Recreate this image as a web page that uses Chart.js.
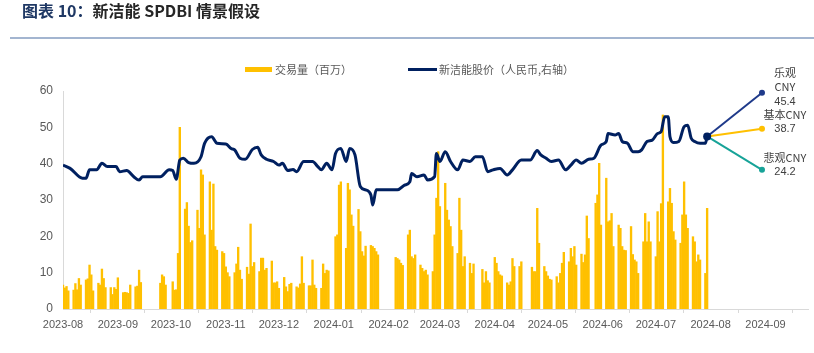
<!DOCTYPE html>
<html>
<head>
<meta charset="utf-8">
<script src="https://cdn.jsdelivr.net/npm/chart.js@4.4.1/dist/chart.umd.min.js"></script>
<style>
    body { margin: 0; background: #fff; }
    #wrap { position: relative; width: 814px; height: 353px; overflow: hidden; font-family: "Noto Sans CJK SC", sans-serif; }
    #title { position: absolute; left: 22px; top: 0; font-size: 16px; font-weight: bold; color: #262626; line-height: 21px; white-space: nowrap; }
    #title .num { color: #1f3864; }
    #rule { position: absolute; left: 10px; right: 0; top: 37px; height: 2px; background: #a3b5d0; }
    .legend-text { position: absolute; top: 61px; font-size: 11px; line-height: 16px; color: #595959; white-space: nowrap; }
    .swatch { position: absolute; }
    canvas { position: absolute; left: 0; top: 0; }
</style>
</head>
<body>
<div id="wrap">
    <canvas id="chart" width="814" height="353"></canvas>
    <div id="title"><span class="num">图表 10：</span>新洁能 SPDBI 情景假设</div>
    <div id="rule"></div>
    <div class="swatch" style="left:245px;top:67px;width:27px;height:5px;background:#FFC000;"></div>
    <div class="legend-text" style="left:275px;">交易量（百万）</div>
    <div class="swatch" style="left:408px;top:68px;width:29px;height:3px;background:#002060;"></div>
    <div class="legend-text" style="left:439px;">新洁能股价（人民币,右轴）</div>
</div>
<script>
// ==================== DATA ====================
const monthLabels = ['2023-08', '2023-09', '2023-10', '2023-11', '2023-12', '2024-01', '2024-02',
    '2024-03', '2024-04', '2024-05', '2024-06', '2024-07', '2024-08', '2024-09'];
// day offset of each month start, counted from 2023-08-01
const monthDays = [0, 31, 61, 92, 122, 153, 184, 213, 244, 274, 305, 335, 366, 397];

// trading volume (millions), one row per week Mon..Fri, null = no trading
const volumeWeeks = [
    [null, 6.6, 5.8, 6.2, 5.0],
    [5.2, 7.0, 5.3, 8.4, 6.6],
    [8.0, 8.3, 12.1, 9.4, 5.0],
    [7.1, 6.6, 11.0, 8.4, 5.9],
    [5.9, 4.0, 5.9, 5.4, 8.6],
    [4.5, 4.6, 4.5, 4.3, 6.6],
    [6.1, 6.3, 10.7, 7.3, null],
    [null, null, null, null, null],
    [7.1, 9.4, 8.9, 6.6, null],
    [7.5, 5.2, 5.3, 15.3, 50.0],
    [27.5, 29.3, 22.8, 18.3, 18.8],
    [27.2, 22.2, 38.3, 36.9, 20.4],
    [35.0, 21.7, 34.4, 17.2, 16.2],
    [15.8, 15.3, 11.6, 10.0, 8.9],
    [10.0, 12.4, 17.0, 10.7, 8.2],
    [11.5, 9.6, 23.4, 11.7, 12.8],
    [10.3, 14.0, 14.0, 10.7, 11.2],
    [13.2, 7.2, 7.2, 7.5, 5.7],
    [8.7, 6.1, 4.8, 6.8, 7.1],
    [6.1, 5.8, 6.9, 14.4, 7.1],
    [6.4, 6.4, 13.5, 6.6, 5.7],
    [5.7, 12.4, 9.8, 10.7, 10.5],
    [null, 19.9, 20.4, 34.1, 35.0],
    [16.7, 34.6, 32.8, 25.9, 22.8],
    [27.4, 21.3, 15.8, 14.6, 17.3],
    [17.5, 17.2, 16.7, 15.8, 14.9],
    [null, null, null, null, null],
    [14.2, 13.9, 13.5, 12.6, 12.0],
    [20.4, 21.7, 14.4, 13.9, 14.9],
    [12.1, 11.2, 10.3, 10.7, 9.4],
    [10.3, 20.4, 30.5, 43.3, 28.2],
    [34.6, 27.2, 24.5, 22.7, 17.2],
    [15.3, 30.5, 21.7, 11.7, 14.4],
    [12.6, 9.8, 12.4, null, null],
    [10.9, 7.2, 10.3, 7.8, 7.2],
    [14.2, 12.6, 10.3, 9.4, 9.1],
    [7.2, 6.6, 7.5, 13.9, 11.7],
    [11.7, 13.0, null, null, null],
    [11.5, 10.3, 10.3, 27.7, 18.1],
    [11.7, 10.3, 9.1, 8.2, 8.0],
    [8.9, 7.2, 9.8, 12.6, 15.6],
    [13.0, 16.7, 14.4, 17.2, 12.1],
    [15.1, 12.8, 14.9, 25.6, 19.4],
    [null, 29.1, 31.4, 40.1, 23.1],
    [36.0, 24.0, 24.3, 26.3, 17.2],
    [23.1, 22.2, 17.2, 16.2, 16.1],
    [22.7, 15.0, 13.5, 13.0, 9.8],
    [18.5, 26.3, 18.5, 24.0, 18.5],
    [14.4, 26.8, 18.5, 29.0, 53.4],
    [29.5, 33.2, 29.1, 21.3, 19.0],
    [18.1, 25.9, 35.0, 25.9, 22.2],
    [19.9, 18.5, 13.0, 14.9, 13.5],
    [9.8, 27.7, null, null, null]
];

// share price (CNY, right axis)
const priceDays = [0, 4, 11, 13, 15, 19, 22, 25, 30, 32, 36, 40, 43, 45, 55, 60, 62, 64, 66, 68,
    71, 74, 78, 80, 84, 87, 92, 95, 97, 100, 103, 107, 110, 112, 115, 119, 122, 124, 127, 130,
    132, 136, 141, 144, 146, 149, 152, 154, 157, 160, 162, 165, 168, 171, 174, 175, 177, 189, 193, 196,
    197, 200, 204, 206, 210, 211, 213, 216, 219, 223, 226, 230, 233, 237, 240, 243, 247, 251, 254, 259,
    264, 268, 270, 273, 276, 280, 284, 287, 290, 293, 297, 300, 304, 307, 308, 312, 314, 316, 319, 322,
    325, 327, 330, 333, 336, 338, 340, 342, 343, 345, 348, 351, 353, 355, 357, 360, 363, 364];
const priceValues = [39.6, 38.7, 36.0, 36.0, 38.3, 38.3, 40.1, 39.2, 39.2, 37.8, 38.1, 36.4, 35.5, 36.4, 36.4, 38.3, 38.1, 35.7, 41.0, 41.5,
    40.3, 40.1, 41.9, 45.6, 47.4, 45.6, 45.4, 44.2, 43.8, 41.5, 41.2, 43.9, 44.5, 42.4, 41.2, 40.6, 39.6, 40.1, 38.1, 38.4,
    37.8, 40.6, 40.6, 39.2, 38.3, 40.1, 38.3, 42.8, 44.2, 40.6, 44.2, 42.4, 33.7, 32.8, 31.4, 28.6, 32.8, 32.8, 34.1, 35.0,
    37.3, 36.4, 36.9, 35.5, 36.4, 42.8, 40.6, 43.3, 40.6, 38.3, 41.0, 40.6, 41.9, 41.9, 37.8, 38.3, 38.7, 36.9, 38.3, 41.0,
    41.0, 43.6, 42.4, 41.5, 40.6, 41.0, 38.3, 39.6, 41.0, 40.1, 41.2, 41.5, 45.1, 46.1, 48.3, 47.9, 48.3, 46.1, 45.6, 43.3,
    43.3, 43.8, 46.1, 46.5, 48.3, 48.8, 52.9, 52.9, 47.4, 45.8, 46.1, 50.2, 50.6, 47.0, 46.1, 45.6, 45.6, 47.5];

// scenarios
const scenarioNames = ['乐观', '基本', '悲观'];
const scenarioPrices = [45.4, 38.7, 24.2];
const scenarioEnds = [59.5, 49.6, 38.3];   // where each arrow ends on the chart
const scenarioEndDay = 395;
const scenarioColors = ['#1f3a8a', '#FFC000', '#17a398'];

// ==================== BUILD ====================
const volumePoints = [];
volumeWeeks.forEach((week, w) => {
    week.forEach((v, i) => {
        if (v !== null) volumePoints.push({ x: 7 * w - 1 + i, y: v });
    });
});

const pricePoints = priceDays.map((d, i) => ({ x: d, y: priceValues[i] }));
const lastPrice = pricePoints[pricePoints.length - 1];

const scenarioSets = scenarioEnds.map((end, i) => ({
    type: 'line',
    data: [lastPrice, { x: scenarioEndDay, y: end }],
    borderColor: scenarioColors[i],
    backgroundColor: scenarioColors[i],
    borderWidth: 2,
    pointRadius: [0, 3],
    pointBorderWidth: 0,
    yAxisID: 'y1',
    clip: false,
    order: 2
}));

// labels next to the scenario arrow heads
const scenarioLabels = {
    id: 'scenarioLabels',
    afterDatasetsDraw(chart) {
        const { ctx, scales } = chart;
        const layouts = [
            [[scenarioNames[0], -20], ['CNY', -6], [scenarioPrices[0].toFixed(1), 9]],
            [[scenarioNames[1] + 'CNY', -14], [scenarioPrices[1].toFixed(1), 0]],
            [[scenarioNames[2] + 'CNY', -12], [scenarioPrices[2].toFixed(1), 2]]
        ];
        ctx.save();
        ctx.fillStyle = '#404040';
        ctx.textAlign = 'center';
        ctx.textBaseline = 'middle';
        layouts.forEach((lines, i) => {
            const x = scales.x.getPixelForValue(scenarioEndDay) + 23;
            const y = scales.y1.getPixelForValue(scenarioEnds[i]);
            lines.forEach(([text, dy]) => {
                ctx.font = /^[\d.]+$/.test(text) ? '11px "Liberation Sans"' : '11px "Noto Sans CJK SC"';
                ctx.fillText(text, x, y + dy);
            });
        });
        ctx.restore();
    }
};

// ==================== CHART ====================
const ctx = document.getElementById('chart').getContext('2d');

const chart = new Chart(ctx, {
    data: {
        datasets: [
            {
                type: 'bar',
                label: '交易量（百万）',
                data: volumePoints,
                backgroundColor: '#FFC000',
                barThickness: 1.7,
                grouped: false,
                yAxisID: 'y',
                order: 3
            },
            {
                type: 'line',
                label: '新洁能股价（人民币,右轴）',
                data: pricePoints,
                borderColor: '#002060',
                backgroundColor: '#002060',
                borderWidth: 3,
                cubicInterpolationMode: 'monotone',
                pointRadius: (c) => c.dataIndex === pricePoints.length - 1 ? 4 : 0,
                pointBorderWidth: 0,
                yAxisID: 'y1',
                order: 1
            },
            ...scenarioSets
        ]
    },
    options: {
        responsive: false,
        animation: false,
        devicePixelRatio: 1,
        layout: { padding: { top: 91, right: 6, left: 0, bottom: 0 } },
        plugins: {
            legend: { display: false },
            tooltip: { enabled: false }
        },
        scales: {
            x: {
                type: 'linear',
                offset: false,
                min: 0,
                max: 421,
                afterBuildTicks: (scale) => { scale.ticks = monthDays.map(v => ({ value: v })); },
                afterFit: (scale) => { scale.height = 44; },
                ticks: {
                    autoSkip: false,
                    maxRotation: 0,
                    padding: 5,
                    color: '#595959',
                    font: { family: 'Liberation Sans', size: 11 },
                    callback: (v, i) => monthLabels[i]
                },
                grid: { drawOnChartArea: false, drawTicks: true, tickLength: 4, color: '#d9d9d9' },
                border: { color: '#d9d9d9' }
            },
            y: {
                position: 'left',
                min: 0,
                max: 60,
                afterFit: (scale) => { scale.width = 63; },
                ticks: {
                    stepSize: 10,
                    padding: 10,
                    color: '#595959',
                    font: { family: 'Liberation Sans', size: 12 }
                },
                grid: { display: false, drawTicks: false },
                border: { color: '#d9d9d9' }
            },
            y1: {
                position: 'right',
                display: false,
                min: 0,
                max: 60
            }
        }
    },
    plugins: [scenarioLabels]
});
</script>
</body>
</html>
